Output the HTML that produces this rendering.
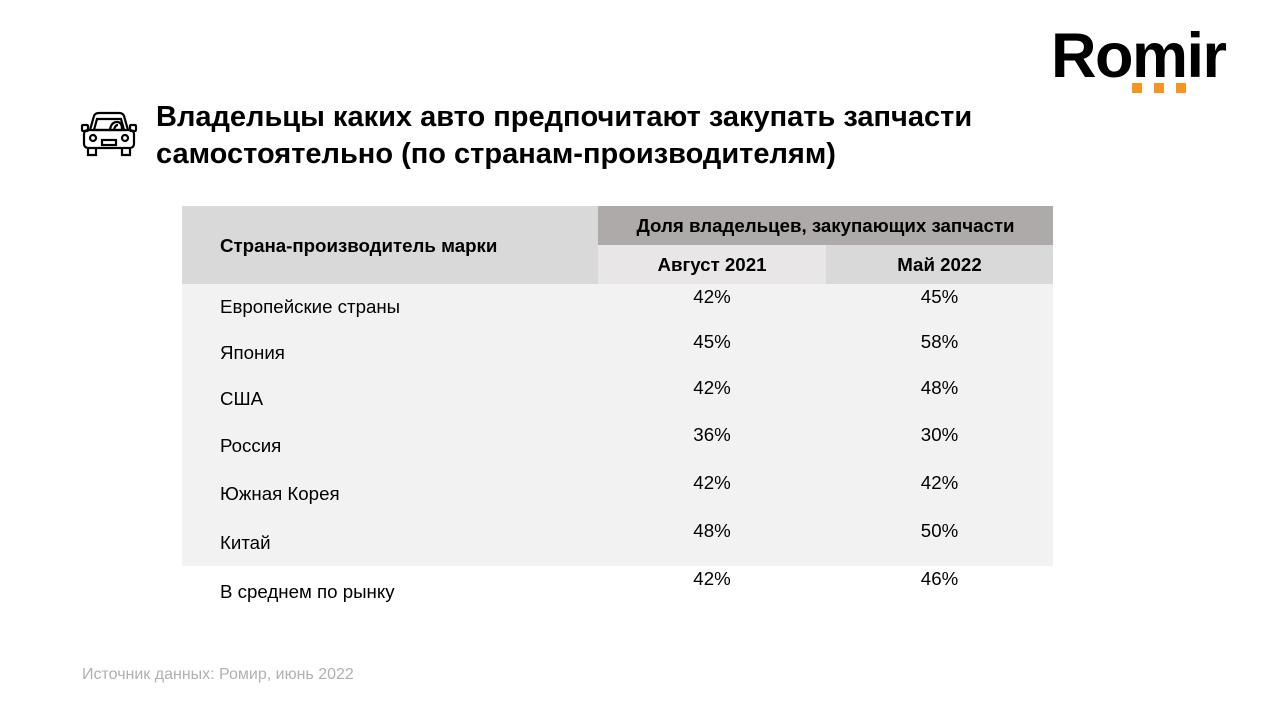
<!DOCTYPE html>
<html><head><meta charset="utf-8"><style>
body{margin:0;width:1280px;height:720px;background:#fff;position:relative;overflow:hidden;font-family:"Liberation Sans",Arial,sans-serif;color:#000}
.a{position:absolute}
.t{font-size:29px;font-weight:bold;line-height:37px;left:156px;top:99px}
.c{position:absolute;font-size:18.7px}
</style></head><body>
<div class="a" style="left:1051px;top:20px;font-size:63px;font-weight:bold;letter-spacing:-1.5px;line-height:72px">Romir</div>
<div class="a" style="left:1132px;top:83px;width:10px;height:10px;background:#f7941d"></div>
<div class="a" style="left:1154px;top:83px;width:10px;height:10px;background:#f7941d"></div>
<div class="a" style="left:1176px;top:83px;width:10px;height:10px;background:#f7941d"></div>
<svg class="a" style="left:80px;top:110px" width="58" height="50" viewBox="0 0 58 50" fill="none" stroke="#000" stroke-width="2.2">
<path d="M10 20 L14 6 Q15 3 19 3 L39 3 Q43 3 44 6 L48 20"/>
<path d="M14 20 L17 9 L41 9 L44 20 Z"/>
<path d="M30 20 Q31 12 37 12 Q42 12 42 19"/><path d="M34 20 Q35 15 38 15"/>
<rect x="4" y="20" width="50" height="18" rx="4"/>
<rect x="2" y="15" width="6" height="6" rx="1"/><rect x="50" y="15" width="6" height="6" rx="1"/>
<circle cx="13" cy="28" r="3"/><circle cx="45" cy="28" r="3"/>
<rect x="22" y="30" width="14" height="5"/>
<path d="M8 38 V45 H16 V38 M42 38 V45 H50 V38"/>
</svg>
<div class="a t">Владельцы каких авто предпочитают закупать запчасти<br>самостоятельно (по странам-производителям)</div>
<div class="a" style="left:182px;top:206px;width:416px;height:78px;background:#d9d9d9"></div>
<div class="a" style="left:598px;top:206px;width:455px;height:39px;background:#aeaaaa"></div>
<div class="a" style="left:598px;top:245px;width:228px;height:39px;background:#e8e6e6"></div>
<div class="a" style="left:826px;top:245px;width:227px;height:39px;background:#d9d9d9"></div>
<div class="a" style="left:182px;top:284px;width:871px;height:282px;background:#f2f2f2"></div>
<div class="c" style="left:220px;top:235px;font-weight:bold">Страна-производитель марки</div>
<div class="c" style="left:598px;top:215px;width:455px;text-align:center;font-weight:bold">Доля владельцев, закупающих запчасти</div>
<div class="c" style="left:598px;top:254px;width:228px;text-align:center;font-weight:bold">Август 2021</div>
<div class="c" style="left:826px;top:254px;width:227px;text-align:center;font-weight:bold">Май 2022</div>
<div class="c" style="left:220px;top:296px">Европейские страны</div>
<div class="c" style="left:220px;top:342px">Япония</div>
<div class="c" style="left:220px;top:388px">США</div>
<div class="c" style="left:220px;top:435px">Россия</div>
<div class="c" style="left:220px;top:483px">Южная Корея</div>
<div class="c" style="left:220px;top:532px">Китай</div>
<div class="c" style="left:220px;top:581px">В среднем по рынку</div>
<div class="c" style="left:598px;width:228px;text-align:center;top:286px">42%</div>
<div class="c" style="left:826px;width:227px;text-align:center;top:286px">45%</div>
<div class="c" style="left:598px;width:228px;text-align:center;top:331px">45%</div>
<div class="c" style="left:826px;width:227px;text-align:center;top:331px">58%</div>
<div class="c" style="left:598px;width:228px;text-align:center;top:377px">42%</div>
<div class="c" style="left:826px;width:227px;text-align:center;top:377px">48%</div>
<div class="c" style="left:598px;width:228px;text-align:center;top:424px">36%</div>
<div class="c" style="left:826px;width:227px;text-align:center;top:424px">30%</div>
<div class="c" style="left:598px;width:228px;text-align:center;top:472px">42%</div>
<div class="c" style="left:826px;width:227px;text-align:center;top:472px">42%</div>
<div class="c" style="left:598px;width:228px;text-align:center;top:520px">48%</div>
<div class="c" style="left:826px;width:227px;text-align:center;top:520px">50%</div>
<div class="c" style="left:598px;width:228px;text-align:center;top:568px">42%</div>
<div class="c" style="left:826px;width:227px;text-align:center;top:568px">46%</div>
<div class="c" style="left:82px;top:666px;font-size:16px;color:#b0b0b0">Источник данных: Ромир, июнь 2022</div>
</body></html>
